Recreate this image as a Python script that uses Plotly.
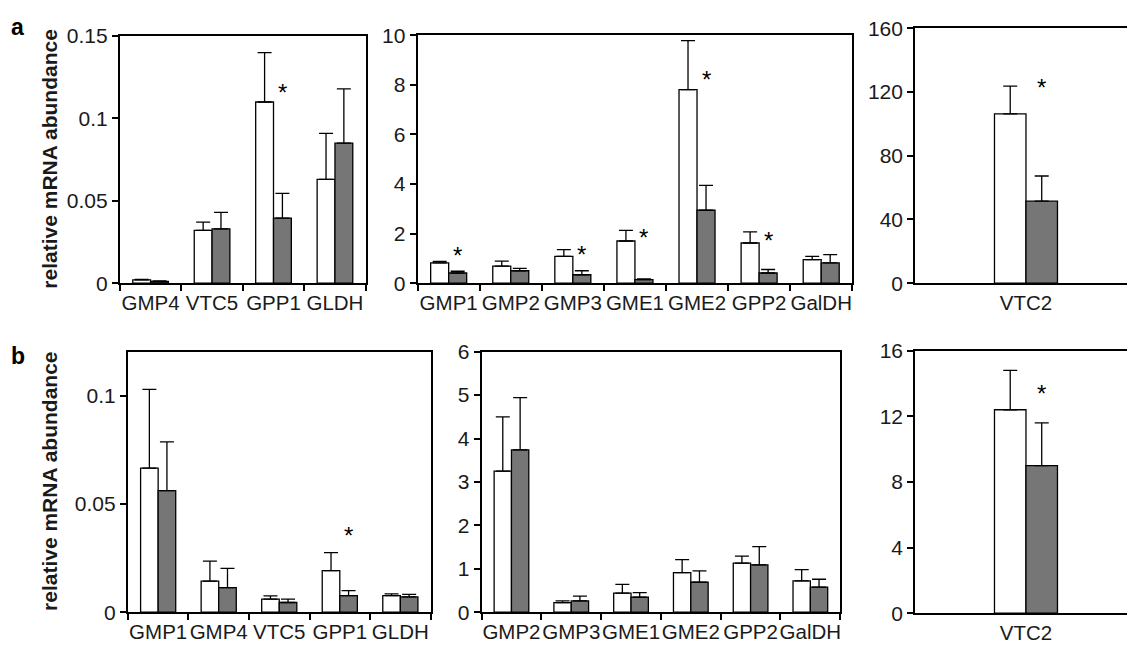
import plotly.graph_objects as go

# ---------------- data ----------------
a1_cats = ["GMP4", "VTC5", "GPP1", "GLDH"]
a1_white = [0.002, 0.032, 0.110, 0.063]
a1_white_err = [0.0003, 0.005, 0.030, 0.028]
a1_grey = [0.001, 0.033, 0.0395, 0.085]
a1_grey_err = [0.0003, 0.010, 0.015, 0.033]
a1_stars = {"GPP1": 0.113}

a2_cats = ["GMP1", "GMP2", "GMP3", "GME1", "GME2", "GPP2", "GalDH"]
a2_white = [0.82, 0.69, 1.08, 1.70, 7.80, 1.62, 0.95]
a2_white_err = [0.06, 0.20, 0.27, 0.43, 1.98, 0.45, 0.13]
a2_grey = [0.41, 0.50, 0.34, 0.14, 2.94, 0.41, 0.82]
a2_grey_err = [0.07, 0.10, 0.16, 0.03, 1.00, 0.14, 0.33]
a2_stars = {"GMP1": 0.93, "GMP3": 0.97, "GME1": 1.63, "GME2": 8.0, "GPP2": 1.52}

a3_cats = ["VTC2"]
a3_white = [106.3]
a3_white_err = [17.5]
a3_grey = [51.5]
a3_grey_err = [15.8]
a3_stars = {"VTC2": 120}

b1_cats = ["GMP1", "GMP4", "VTC5", "GPP1", "GLDH"]
b1_white = [0.0666, 0.0144, 0.0061, 0.0192, 0.0077]
b1_white_err = [0.0365, 0.0092, 0.0015, 0.0084, 0.0008]
b1_grey = [0.0562, 0.0114, 0.0045, 0.0077, 0.0071]
b1_grey_err = [0.0226, 0.0089, 0.0016, 0.0023, 0.0012]
b1_stars = {"GPP1": 0.033}

b2_cats = ["GMP2", "GMP3", "GME1", "GME2", "GPP2", "GalDH"]
b2_white = [3.25, 0.22, 0.44, 0.91, 1.13, 0.72]
b2_white_err = [1.25, 0.04, 0.20, 0.30, 0.16, 0.26]
b2_grey = [3.74, 0.26, 0.35, 0.69, 1.09, 0.58]
b2_grey_err = [1.20, 0.11, 0.10, 0.26, 0.42, 0.18]
b2_stars = {}

b3_cats = ["VTC2"]
b3_white = [12.4]
b3_white_err = [2.4]
b3_grey = [9.0]
b3_grey_err = [2.6]
b3_stars = {"VTC2": 13.1}

# ---------------- style ----------------
W, H = 1128, 657
FONT = "Liberation Sans, Arial, Helvetica, sans-serif"
GREY = "#767676"
BW = 0.29  # bar width in category units

panels = [
    (a1_cats, a1_white, a1_white_err, a1_grey, a1_grey_err, a1_stars, (120, 366), (25, 281), [0, 0.15], [0, 0.05, 0.1, 0.15], None, True, True),
    (a2_cats, a2_white, a2_white_err, a2_grey, a2_grey_err, a2_stars, (418, 853), (24, 281), [0, 10], [0, 2, 4, 6, 8, 10], None, True, True),
    (a3_cats, a3_white, a3_white_err, a3_grey, a3_grey_err, a3_stars, (916, 1128), (17, 281), [0, 160], [0, 40, 80, 120, 160], [-1.02, 0.93], False, False),
    (b1_cats, b1_white, b1_white_err, b1_grey, b1_grey_err, b1_stars, (128, 431), (352, 622), [0, 0.1205], [0, 0.05, 0.1], None, True, True),
    (b2_cats, b2_white, b2_white_err, b2_grey, b2_grey_err, b2_stars, (482, 841), (352, 622), [0, 6], [0, 1, 2, 3, 4, 5, 6], None, True, True),
    (b3_cats, b3_white, b3_white_err, b3_grey, b3_grey_err, b3_stars, (916, 1128), (351, 623), [0, 16], [0, 4, 8, 12, 16], [-1.02, 0.93], False, False),
]

fig = go.Figure()
annotations = []
layout = {}

for i, (cats, wv, we, gv, ge, stars, xd, yd, yr, tv, xr, mir, xt) in enumerate(panels, start=1):
    xa = "x" if i == 1 else f"x{i}"
    ya = "y" if i == 1 else f"y{i}"
    n = len(cats)
    fig.add_trace(go.Bar(
        x=cats, y=wv, xaxis=xa, yaxis=ya, width=BW, offset=-BW,
        marker=dict(color="white", line=dict(color="black", width=1.3)),
        error_y=dict(type="data", symmetric=False, array=we, arrayminus=[0] * n,
                     color="black", thickness=1.3, width=7),
        showlegend=False,
    ))
    fig.add_trace(go.Bar(
        x=cats, y=gv, xaxis=xa, yaxis=ya, width=BW, offset=0,
        marker=dict(color=GREY, line=dict(color="black", width=1.3)),
        error_y=dict(type="data", symmetric=False, array=ge, arrayminus=[0] * n,
                     color="black", thickness=1.3, width=7),
        showlegend=False,
    ))
    xkey = "xaxis" if i == 1 else f"xaxis{i}"
    ykey = "yaxis" if i == 1 else f"yaxis{i}"
    layout[xkey] = dict(
        domain=[xd[0] / W, xd[1] / W], anchor=ya, type="category",
        categoryorder="array", categoryarray=cats,
        range=xr if xr is not None else [-0.5, n - 0.5],
        tickson="boundaries", ticks="outside" if xt else "", ticklen=6, tickwidth=1.5,
        tickcolor="black", tickangle=0,
        showline=True, linewidth=2, linecolor="black", mirror=True,
        showgrid=False, zeroline=False,
        tickfont=dict(family=FONT, size=20.5, color="#1a1a1a"),
        fixedrange=True,
    )
    layout[ykey] = dict(
        domain=[(H - yd[1]) / H, (H - yd[0]) / H], anchor=xa,
        range=yr, tickmode="array", tickvals=tv,
        ticks="outside", ticklen=6, tickwidth=1.5, tickcolor="black",
        showline=True, linewidth=2, linecolor="black", mirror=mir,
        showgrid=False, zeroline=False,
        tickfont=dict(family=FONT, size=21, color="#1a1a1a"),
        fixedrange=True,
    )
    for cat, val in stars.items():
        idx = cats.index(cat)
        annotations.append(dict(
            x=idx + BW / 2, y=val, xref=xa, yref=ya, text="*", showarrow=False,
            font=dict(family=FONT, size=24, color="black"),
            xanchor="center", yanchor="middle", yshift=5,
        ))

for txt_y in (152, 486):
    annotations.append(dict(
        x=50 / W, y=(H - txt_y) / H, xref="paper", yref="paper",
        text="<b>relative mRNA abundance</b>", textangle=-90, showarrow=False,
        font=dict(family=FONT, size=21, color="#1a1a1a"),
        xanchor="center", yanchor="middle",
    ))
for lab, ly in (("a", 16), ("b", 356)):
    annotations.append(dict(
        x=18 / W, y=(H - ly) / H, xref="paper", yref="paper",
        text=f"<b>{lab}</b>", showarrow=False,
        font=dict(family=FONT, size=23, color="black"),
        xanchor="center", yanchor="middle",
    ))

fig.update_layout(
    width=W, height=H, margin=dict(l=0, r=0, t=0, b=0),
    paper_bgcolor="white", plot_bgcolor="white",
    barmode="overlay", annotations=annotations,
    font=dict(family=FONT),
    **layout,
)

fig.write_html("out.html", config={"displayModeBar": False})
